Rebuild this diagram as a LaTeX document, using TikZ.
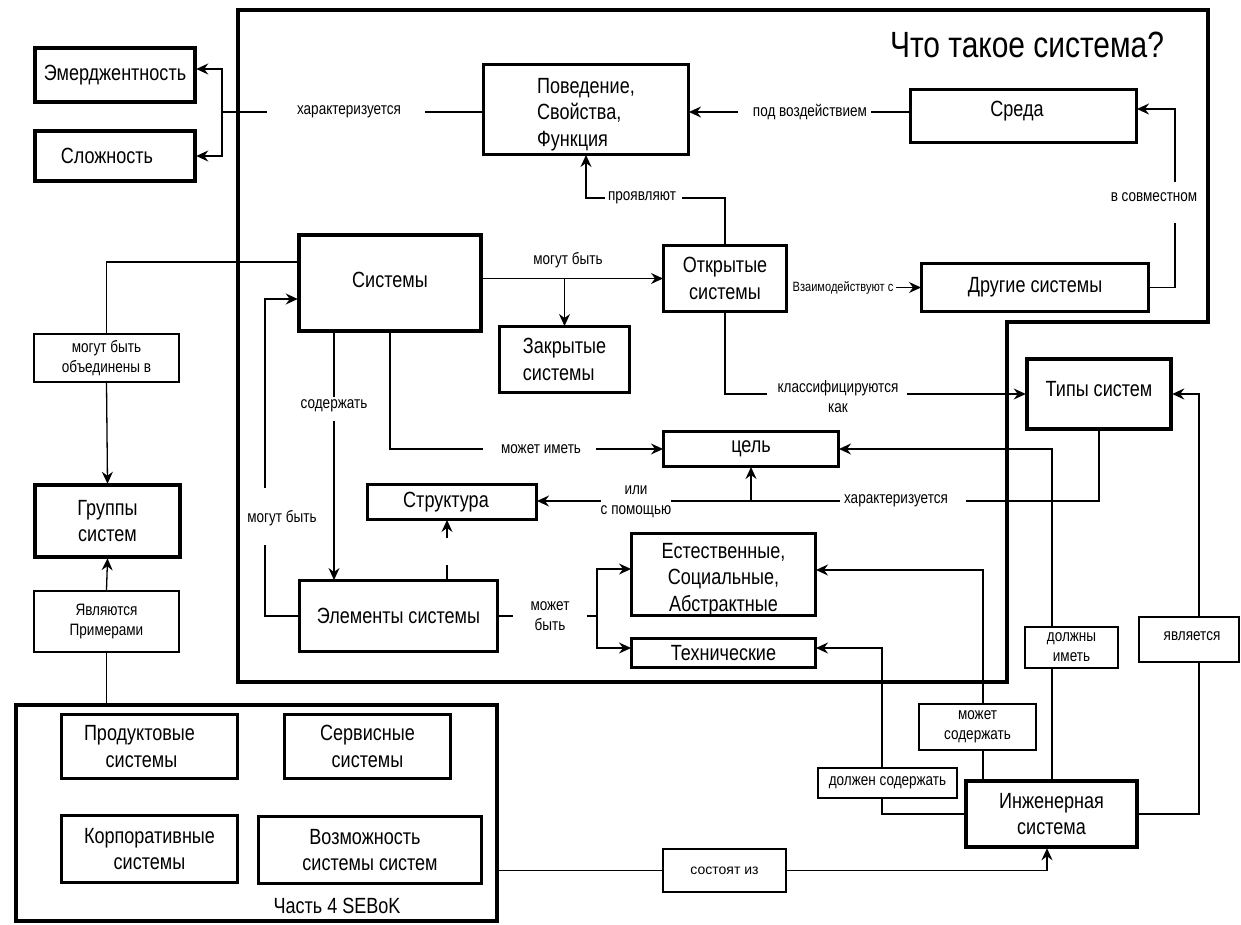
\documentclass[tikz,border=0pt]{standalone}
\usepackage{fontspec}
\setmainfont{Liberation Sans}[FakeStretch=0.82]
\newfontfamily\plainsans{Liberation Sans}
\usetikzlibrary{arrows.meta,backgrounds}

\newcommand\fmain{\fontsize{22pt}{26.5pt}\selectfont}
\newcommand\flab{\fontsize{16.5pt}{20pt}\selectfont}
\newcommand\fsmall{\fontsize{13.5pt}{16pt}\selectfont}
\newcommand\ftitle{\fontsize{36.5pt}{40pt}\selectfont}
% invisible struts used to nudge text inside its box
\newcommand\lowerby[1]{\rule{0pt}{#1}}
\newcommand\raiseby[1]{\rule[-#1]{0pt}{#1}}

\tikzset{
  every node/.style={inner sep=0pt, align=center},
  heavybox/.style={draw, line width=4.5pt, fill=white, font=\fmain},
  midbox/.style={draw, line width=3pt, fill=white, font=\fmain},
  tagbox/.style={draw, line width=1.6pt, fill=white, font=\flab},
  tag/.style={font=\flab},
  link/.style={line width=1.3pt},
  arrow/.style={link, -{Stealth[length=12pt,width=11pt,inset=4pt]}, shorten >=-1pt},
  frame/.style={line width=4.5pt},
}

\begin{document}
\begin{tikzpicture}[x=1pt,y=-1pt]
\useasboundingbox (0,0) rectangle (1241,925);

% ---- main frame "what is a system" ----
\draw[frame] (238,10) -- (1208,10) -- (1208,322) -- (1007,322) -- (1007,682) -- (238,682) -- cycle;
\node[font=\ftitle] (title) at (1027,45) {Что такое система?};

% ---- boxes ----
\node[heavybox, minimum width=160, minimum height=54] (emer) at (115,75) {Эмерджентность};
\node[heavybox, minimum width=160, minimum height=50] (slozh) at (115,156) {Сложность\hspace*{16pt}};
\node[midbox, minimum width=205, minimum height=90, align=left] (poved) at (586,109.5) {\lowerby{25pt}Поведение,\\Свойства,\\Функция};
\node[midbox, minimum width=226, minimum height=53] (sreda) at (1023.5,116) {Среда\raiseby{14pt}\hspace*{13pt}};
\node[midbox, minimum width=227, minimum height=48] (drugie) at (1035,287.5) {Другие системы};
\node[midbox, minimum width=123, minimum height=66] (otkr) at (725,278.5) {Открытые\\системы};
\node[heavybox, minimum width=182, minimum height=96] (sist) at (390,283) {Системы\raiseby{6pt}};
\node[midbox, minimum width=130, minimum height=66, align=left] (zakr) at (564.5,359.5) {Закрытые\\системы};
\node[heavybox, minimum width=144, minimum height=70] (tipy) at (1099,394) {Типы систем\raiseby{11pt}};
\node[midbox, minimum width=175, minimum height=35] (cel) at (751,449) {цель};
\node[midbox, minimum width=169, minimum height=35] (struct) at (452,502) {Структура\hspace*{12pt}};
\node[midbox, minimum width=198, minimum height=71] (elem) at (398.5,616) {Элементы системы};
\node[midbox, minimum width=184, minimum height=80] (est) at (723.5,574.5) {\lowerby{25pt}Естественные,\\Социальные,\\Абстрактные};
\node[midbox, minimum width=184, minimum height=29] (tehn) at (723.5,653) {Технические};
\node[heavybox, minimum width=145, minimum height=72] (gruppy) at (107.5,521) {Группы\\систем};
\node[tagbox, minimum width=145.5, minimum height=48.5] (obed) at (106.5,358) {могут быть\\объединены в};
\node[tagbox, minimum width=145.5, minimum height=61.5] (prim) at (106.5,621.5) {Являются\\Примерами};

% ---- part 4 group ----
\node[draw, line width=4.5pt, minimum width=481, minimum height=216] (part4) at (256.5,813) {};
\node[midbox, minimum width=176, minimum height=64] (prod) at (149.5,746.5) {Продуктовые\hspace*{20pt}\\системы\hspace*{16pt}};
\node[midbox, minimum width=166, minimum height=64] (serv) at (367.5,746.5) {Сервисные\\системы};
\node[midbox, minimum width=176, minimum height=67] (korp) at (149.5,849) {Корпоративные\\системы};
\node[midbox, minimum width=223, minimum height=67] (vozm) at (370,850) {Возможность\hspace*{10pt}\\системы систем};
\node[font=\fontsize{22pt}{26pt}\selectfont] (chast) at (337,906) {Часть 4 SEBoK};

% ---- engineered system and its relation tags ----
\node[heavybox, minimum width=171, minimum height=66] (inzh) at (1051.5,814) {Инженерная\\система};
\node[tagbox, minimum width=123.5, minimum height=43.5, font=\plainsans\fontsize{14pt}{17pt}\selectfont] (sost) at (724.5,870.5) {состоят из};
\node[tagbox, minimum width=139.5, minimum height=30.5] (dolzhsod) at (887.5,783) {должен содержать};
\node[tagbox, minimum width=117.5, minimum height=46.5] (mozhsod) at (977.5,727) {может\\содержать};
\node[tagbox, minimum width=93.5, minimum height=41.5] (dolzhim) at (1071.5,647.5) {должны\\иметь};
\node[tagbox, minimum width=100.5, minimum height=45.5] (yavl) at (1189,639.5) {является\raiseby{6pt}\hspace*{-6pt}};

% ---- connector labels ----
\node[tag] (har1) at (349,112) {характеризуется};
\node[tag] (pod) at (810,112) {под воздействием};
\node[tag] (sovm) at (1154,197) {в совместном};
\node[font=\fsmall] (vzaim) at (843,287.5) {Взаимодействуют с};
\node[tag] (proyav) at (642,198) {проявляют};
\node[tag] (mogut1) at (568,260) {могут быть};
\node[tag] (klass) at (838,397) {классифицируются\\как};
\node[tag] (mozhim) at (541,449) {может иметь};
\node[tag] (ili) at (636,502) {или\\с помощью};
\node[tag] (har2) at (896,501) {характеризуется};
\node[tag] (soderzh) at (334,406) {содержать};
\node[tag] (mogut2) at (282,518) {могут быть};
\node[tag] (mozhbyt) at (550,616) {может\\быть};

% ---- bend points ----
\coordinate (hfork) at (222,112);
\coordinate (sva) at (1175,223);
\coordinate (svb) at (1175,182);
\coordinate (m2a) at (265,545);
\coordinate (m2b) at (265,488);
\coordinate (mbx) at (597,616);
\coordinate (sta) at (447,565);
\coordinate (stb) at (447,538);
\coordinate (dsc) at (882,648);
\coordinate (msc) at (983,570);
\coordinate (dic) at (1052,449);
\coordinate (yvc) at (1199,394);

% ---- connectors ----
\begin{pgfonlayer}{background}
\draw[link] ([xshift=24pt]har1.east) -- (poved.west |- har1.east);
\draw[link] ([xshift=-30pt]har1.west) -- (hfork);
\draw[arrow] (hfork) |- ([yshift=6pt]emer.east);
\draw[arrow] (hfork) |- (slozh.east);

\draw[link] ([xshift=4pt]pod.east) -- (sreda.west |- pod.east);
\draw[arrow] ([xshift=-15pt]pod.west) -- (poved.east |- pod.west);

\draw[link] (drugie.east) -| (sva);
\draw[arrow] (svb) |- ([yshift=7pt]sreda.east);

\draw[arrow] ([xshift=2pt]vzaim.east) -- (drugie.west);

\draw[link] (otkr.north) |- ([xshift=6pt]proyav.east);
\draw[arrow] ([xshift=-3pt]proyav.west) -| (poved.south);

\draw[arrow] (sist.east |- otkr.west) -- (otkr.west);
\draw[arrow] (zakr.north |- otkr.west) -- (zakr.north);

\draw[link] (otkr.south) |- ([xshift=-10pt]klass.west |- tipy.west);
\draw[arrow] ([xshift=8pt]klass.east |- tipy.west) -- (tipy.west);

\draw[link] (sist.south) |- ([xshift=-18pt]mozhim.west);
\draw[arrow] ([xshift=15pt]mozhim.east) -- (cel.west);

\draw[link] (tipy.south) |- ([xshift=18pt]har2.east);
\draw[link] ([xshift=-4pt]har2.west) -- (ili.east |- har2.west);
\draw[arrow] (ili.west |- har2.west) -- (struct.east |- har2.west);
\draw[arrow] (cel.south |- har2.west) -- (cel.south);

\draw[link] (soderzh.north |- sist.south) -- ([yshift=3pt]soderzh.north);
\draw[arrow] ([yshift=-9pt]soderzh.south) -- (soderzh.south |- elem.north);

\draw[link] (elem.west) -| (m2a);
\draw[arrow] (m2b) |- ([yshift=-16pt]sist.west);

\draw[link] (elem.east) -- ([xshift=-17pt]mozhbyt.west);
\draw[link] ([xshift=17pt]mozhbyt.east) -- (mbx);
\draw[arrow] (mbx) |- ([yshift=5.5pt]est.west);
\draw[arrow] (mbx) |- ([yshift=5pt]tehn.west);

\draw[link] (sta |- elem.north) -- (sta);
\draw[arrow] (stb) -- (stb |- struct.south);

\draw[link] ([yshift=21pt]sist.west) -| (obed.north);
\draw[arrow] (obed.south) -- (gruppy.north);
\draw[arrow] (prim.north) -- (gruppy.south);
\draw[link] (prim.south) -- (prim.south |- part4.north);

\draw[link] (part4.east |- sost.west) -- (sost.west);
\draw[arrow] (sost.east) -| ([xshift=-4.5pt]inzh.south);

\draw[arrow] (inzh.west) -| (dsc) -- (dsc -| tehn.east);
\draw[arrow] (msc |- inzh.north) -- (msc) -- (msc -| est.east);
\draw[arrow] (dic |- inzh.north) -- (dic) -- (dic -| cel.east);
\draw[arrow] (inzh.east) -| (yvc) -- (tipy.east);
\end{pgfonlayer}
\end{tikzpicture}
\end{document}
